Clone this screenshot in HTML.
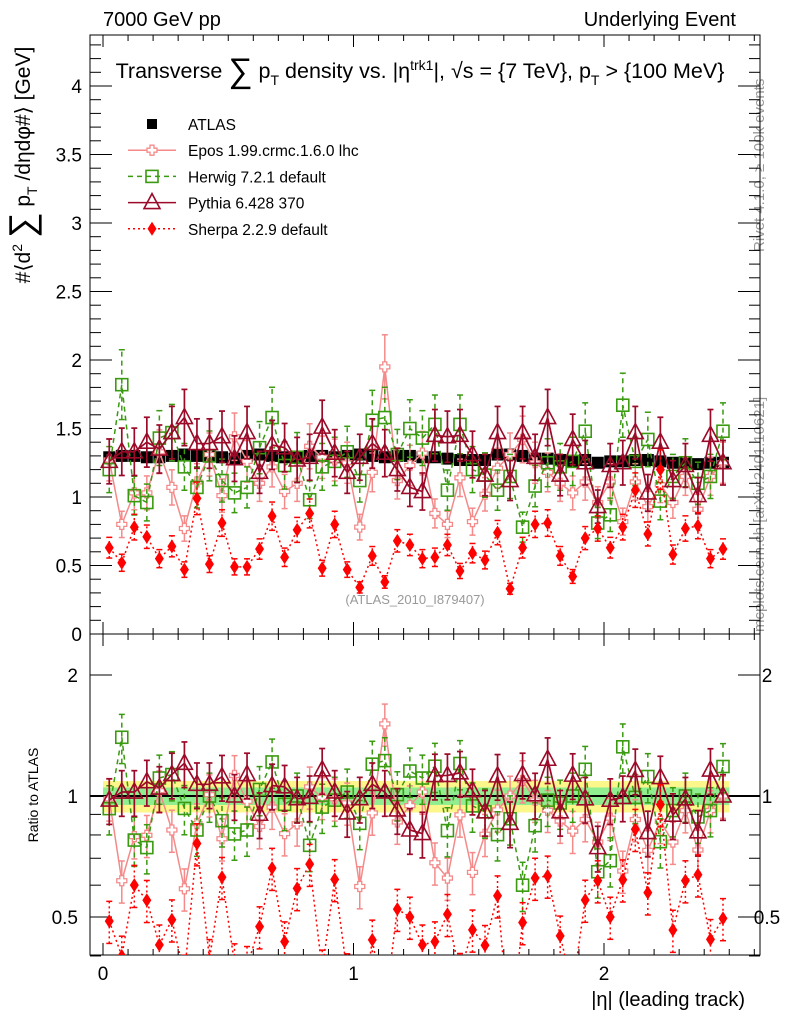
<!DOCTYPE html>
<html><head><meta charset="utf-8"><style>
body{margin:0;background:#fff}
svg{display:block;font-family:"Liberation Sans",sans-serif}
</style></head><body>
<svg id="c" width="786" height="1024" xmlns="http://www.w3.org/2000/svg">
<text x="103" y="26" font-size="20">7000 GeV pp</text>
<text x="736" y="26" font-size="20" text-anchor="end">Underlying Event</text>
<text x="420" y="78" font-size="21.5" text-anchor="middle">Transverse <tspan font-size="34" dy="4">∑</tspan><tspan dy="-4"> p</tspan><tspan font-size="14" dy="7">T</tspan><tspan dy="-7"> density vs. |η</tspan><tspan font-size="14" dy="-8">trk1</tspan><tspan dy="8">|, √s = {7 TeV}, p</tspan><tspan font-size="14" dy="7">T</tspan><tspan dy="-7"> &gt; {100 MeV}</tspan></text>
<text transform="translate(30,165) rotate(-90)" font-size="21" text-anchor="middle">#⟨d<tspan font-size="14" dy="-8">2</tspan><tspan dy="8"> </tspan><tspan font-size="36" dy="4">∑</tspan><tspan dy="-4"> p</tspan><tspan font-size="14" dy="7">T</tspan><tspan dy="-7"> /dηdφ#⟩ [GeV]</tspan></text>
<text transform="translate(38,795) rotate(-90)" font-size="14" text-anchor="middle">Ratio to ATLAS</text>
<text x="745" y="1006" font-size="20" text-anchor="end">|η| (leading track)</text>
<text transform="translate(764,252) rotate(-90)" font-size="15" fill="#999">Rivet 4.1.0, ≥ 100k events</text>
<text transform="translate(764,632) rotate(-90)" font-size="15" fill="#999">mcplots.cern.ch [arXiv:2401.10621]</text>
<text x="415" y="604" font-size="13" fill="#999" text-anchor="middle">(ATLAS_2010_I879407)</text>
<g id="legend"></g>
<g id="plot"></g>
</svg>
<script>
const atlas=[1.29,1.30,1.30,1.29,1.29,1.30,1.31,1.30,1.30,1.29,1.28,1.30,1.31,1.30,1.29,1.29,1.30,1.30,1.29,1.30,1.31,1.30,1.29,1.30,1.30,1.29,1.29,1.28,1.27,1.27,1.27,1.31,1.31,1.30,1.28,1.28,1.27,1.26,1.27,1.25,1.26,1.26,1.27,1.27,1.26,1.25,1.25,1.24,1.25,1.25];
const epos=[1.27,0.80,1.03,1.03,1.33,1.07,0.77,1.11,1.31,1.01,1.44,1.26,1.10,1.22,1.04,1.10,1.37,1.29,1.27,1.25,0.78,1.18,1.95,1.12,1.23,1.32,0.88,0.80,1.14,0.82,1.02,1.21,1.31,1.42,1.25,1.18,1.10,1.03,1.11,0.96,1.11,0.82,1.11,0.93,1.09,0.96,1.15,0.91,1.15,1.25];
const herwig=[1.20,1.82,1.01,0.96,1.43,1.47,1.22,1.07,1.30,1.12,1.03,1.07,1.36,1.58,1.23,1.29,0.98,1.22,1.26,1.33,1.12,1.56,1.58,1.31,1.50,1.43,1.53,1.05,1.53,1.20,1.16,1.05,1.15,0.78,1.08,1.25,1.22,1.26,1.48,0.81,0.87,1.67,1.26,1.42,0.97,1.15,1.25,1.10,1.15,1.48];
const pythia=[1.26,1.33,1.33,1.40,1.35,1.47,1.58,1.39,1.39,1.44,1.28,1.47,1.18,1.38,1.36,1.27,1.29,1.51,1.32,1.18,1.29,1.39,1.32,1.20,1.07,1.04,1.45,1.44,1.45,1.31,1.16,1.47,1.12,1.47,1.29,1.58,1.16,1.42,1.25,0.93,1.23,1.25,1.47,1.03,1.40,1.12,1.23,1.01,1.45,1.25];
const sherpa=[0.63,0.52,0.78,0.71,0.55,0.64,0.47,0.99,0.51,0.81,0.49,0.49,0.62,0.86,0.56,0.76,0.88,0.48,0.80,0.47,0.34,0.57,0.38,0.68,0.65,0.55,0.56,0.65,0.46,0.59,0.54,0.74,0.33,0.63,0.80,0.81,0.57,0.42,0.70,0.77,0.63,0.78,1.05,0.73,1.20,0.58,0.77,0.79,0.55,0.62];
const errFrac={atlas:0.01,epos:0.12,herwig:0.14,pythia:0.13,sherpa:0.12};
const xTicks=[0,1,2];
const yTicks=[0,0.5,1,1.5,2,2.5,3,3.5,4];
const rTicks=[0.5,1,2];

const NS='http://www.w3.org/2000/svg';
const plot=document.getElementById('plot');
const L=90,R=760,T=35,MB=634,RB=955;
const xs=v=>103+v*250.5;
const ym=v=>634-v*137;
const yr=v=>796-Math.log2(v)*121;
function el(tag,attrs,parent){const e=document.createElementNS(NS,tag);for(const k in attrs)e.setAttribute(k,attrs[k]);(parent||plot).appendChild(e);return e;}

const bandY=el('rect',{x:xs(0),y:yr(1.09),width:xs(2.5)-xs(0),height:yr(0.91)-yr(1.09),fill:'#fdf68a'});


const bandG=el('rect',{x:xs(0),y:yr(1.05),width:xs(2.5)-xs(0),height:yr(0.95)-yr(1.05),fill:'#90ee90'});



const f1=el('rect',{x:L,y:T,width:R-L,height:MB-T,fill:'none',stroke:'#000','stroke-width':1});


const f2=el('rect',{x:L,y:MB,width:R-L,height:RB-MB,fill:'none',stroke:'#000','stroke-width':1});



for(let i=-1;i<=26;i++){const v=i*0.1;const x=xs(v);if(x<L||x>R)continue;const big=i%10===0;const h=big?12:6;
 el('line',{x1:x,y1:MB,x2:x,y2:MB-h,stroke:'#000'});el('line',{x1:x,y1:T,x2:x,y2:T+h,stroke:'#000'});
 el('line',{x1:x,y1:RB,x2:x,y2:RB-h,stroke:'#000'});el('line',{x1:x,y1:MB,x2:x,y2:MB+h,stroke:'#000'});}
xTicks.forEach(v=>{const t=el('text',{x:xs(v),y:980,'font-size':19,'text-anchor':'middle'});t.textContent=v;
 
 });
for(let i=0;i<=43;i++){const v=i*0.1;const y=ym(v);const big=i%5===0;const h=big?22:11;
 el('line',{x1:L,y1:y,x2:L+h,y2:y,stroke:'#000'});el('line',{x1:R,y1:y,x2:R-h,y2:y,stroke:'#000'});}
yTicks.forEach(v=>{const t=el('text',{x:82,y:ym(v)+7,'font-size':19,'text-anchor':'end'});t.textContent=v;
 
 });
[0.4,0.5,0.6,0.7,0.8,0.9,1,2].forEach(v=>{const y=yr(v);const big=rTicks.includes(v);const h=big?22:11;
 el('line',{x1:L,y1:y,x2:L+h,y2:y,stroke:'#000'});el('line',{x1:R,y1:y,x2:R-h,y2:y,stroke:'#000'});});
rTicks.forEach(v=>{const t=el('text',{x:78,y:yr(v)+7,'font-size':19,'text-anchor':'end'});t.textContent=v;
 
 
 const t2=el('text',{x:767,y:yr(v)+7,'font-size':19,'text-anchor':'middle'});t2.textContent=v;
 
 });
el('line',{x1:L,y1:yr(1),x2:R,y2:yr(1),stroke:'#000','stroke-width':2});

const series=[
 {key:'epos',data:epos,color:'#f48a8a',dash:'',mk:'cross',w:1.5},
 {key:'herwig',data:herwig,color:'#3a9a10',dash:'5,4',mk:'square',w:1.5},
 {key:'pythia',data:pythia,color:'#9b0a28',dash:'',mk:'tri',w:1.7},
 {key:'sherpa',data:sherpa,color:'#ff0000',dash:'2,3',mk:'diamond',w:1.5}];

function marker(g,mk,x,y,c){
 if(mk==='square')el('rect',{x:x-6,y:y-6,width:12,height:12,fill:'none',stroke:c,'stroke-width':1.6},g);
 else if(mk==='tri')el('polygon',{points:`${x},${y-9} ${x-8},${y+6} ${x+8},${y+6}`,fill:'none',stroke:c,'stroke-width':1.6},g);
 else if(mk==='diamond')el('polygon',{points:`${x},${y-7} ${x-4.5},${y} ${x},${y+7} ${x+4.5},${y}`,fill:c},g);
 else if(mk==='cross')el('path',{d:`M${x-2},${y-5}h4v3h3v4h-3v3h-4v-3h-3v-4h3z`,fill:'#fff',stroke:c,'stroke-width':1.3},g);
 else if(mk==='atlas')el('rect',{x:x-6,y:y-6,width:12,height:12,fill:'#000'},g);
}
const clipM=el('clipPath',{id:'cm'});el('rect',{x:L,y:T,width:R-L,height:MB-T},clipM);
const clipR=el('clipPath',{id:'cr'});el('rect',{x:L,y:MB,width:R-L,height:RB-MB},clipR);

function drawPanel(s,vals,yf,clip,suffix){
 const g=el('g',{'clip-path':`url(#${clip})`});
 
 
 const e=errFrac[s.key];
 vals.forEach((v,i)=>{const x=xs(0.025+0.05*i);const lo=yf(v*(1-e)),hi=yf(v*(1+e));
  el('line',{x1:x,y1:lo,x2:x,y2:hi,stroke:s.color,'stroke-width':s.w,'stroke-dasharray':s.dash},g);
  el('line',{x1:x-3,y1:lo,x2:x+3,y2:lo,stroke:s.color,'stroke-width':s.w},g);
  el('line',{x1:x-3,y1:hi,x2:x+3,y2:hi,stroke:s.color,'stroke-width':s.w},g);});
 el('polyline',{points:vals.map((v,i)=>xs(0.025+0.05*i)+','+yf(v)).join(' '),fill:'none',stroke:s.color,'stroke-width':s.w,'stroke-dasharray':s.dash},g);
 vals.forEach((v,i)=>marker(g,s.mk,xs(0.025+0.05*i),yf(v),s.color));
}
const ga=el('g',{'clip-path':'url(#cm)'});


atlas.forEach((v,i)=>marker(ga,'atlas',xs(0.025+0.05*i),ym(v),'#000'));
series.forEach(s=>{drawPanel(s,s.data,ym,'cm','');drawPanel(s,s.data.map((v,i)=>v/atlas[i]),yr,'cr','-ratio');});

const lg=document.getElementById('legend');
const names=['ATLAS','Epos 1.99.crmc.1.6.0 lhc','Herwig 7.2.1 default','Pythia 6.428 370','Sherpa 2.2.9 default'];
const all=[{key:'atlas',mk:'atlas',color:'#000'}].concat(series);
all.forEach((s,i)=>{const y=124+i*26.2;const g=el('g',{},lg);
 
 
 if(s.key!=='atlas')el('line',{x1:128,y1:y,x2:176,y2:y,stroke:s.color,'stroke-width':1.5,'stroke-dasharray':s.dash},g);
 if(s.key==='atlas')el('rect',{x:147,y:y-5,width:10,height:10,fill:'#000'},g);else marker(g,s.mk,152,y,s.color);
 const t=el('text',{x:188,y:y+6,'font-size':15.5},g);t.textContent=names[i];});
</script>
</body></html>
